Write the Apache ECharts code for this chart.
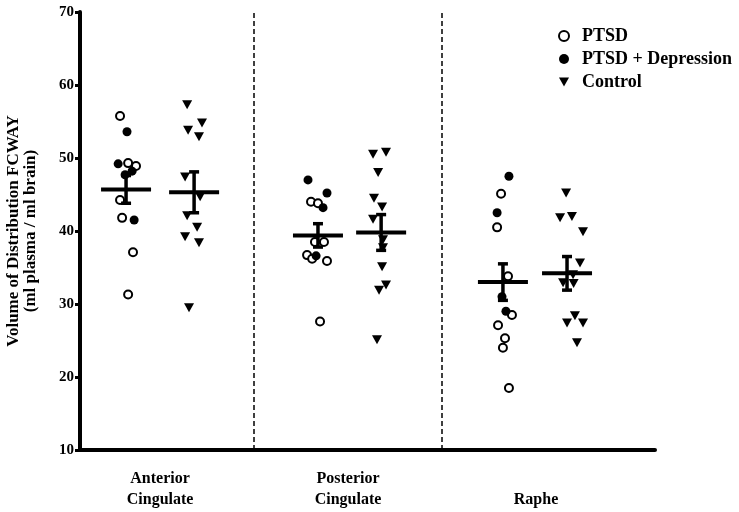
<!DOCTYPE html>
<html>
<head>
<meta charset="utf-8">
<script src="https://cdn.jsdelivr.net/npm/echarts@6/dist/echarts.min.js"></script>
<style>
  html, body { margin: 0; padding: 0; background: #fff; }
  #chart { width: 739px; height: 512px; }
</style>
</head>
<body>
<div id="chart"></div>
<script>
// Regions on the x axis (positions 1, 2, 3)
const regions = ["Anterior\nCingulate", "Posterior\nCingulate", "\nRaphe"];
const regionPos = [1, 2, 3];
const dividers = [1.5, 2.5];

// [x, Vd] pairs (x carries the small horizontal jitter)
const ptsd = [
  [0.787, 55.75], [0.83, 49.3], [0.872, 48.9], [0.787, 44.25], [0.798, 41.8], [0.856, 37.1], [0.83, 31.3],
  [1.803, 44.0], [1.84, 43.8], [1.824, 38.5], [1.872, 38.5], [1.782, 36.7], [1.809, 36.2], [1.888, 35.9], [1.851, 27.6],
  [2.814, 45.1], [2.793, 40.5], [2.851, 33.8], [2.872, 28.5], [2.798, 27.1], [2.835, 25.3], [2.824, 24.0], [2.856, 18.5],
];
const ptsdDepression = [
  [0.824, 53.6], [0.777, 49.2], [0.851, 48.2], [0.814, 47.7], [0.862, 41.5],
  [1.787, 47.0], [1.888, 45.2], [1.867, 43.2], [1.83, 36.6],
  [2.856, 47.5], [2.793, 42.5], [2.819, 31.0], [2.84, 29.0],
];
const control = [
  [1.144, 57.3], [1.223, 54.8], [1.149, 53.8], [1.207, 52.9], [1.133, 47.4], [1.213, 44.7],
  [1.144, 42.1], [1.197, 40.5], [1.133, 39.2], [1.207, 38.4], [1.154, 29.5],
  [2.202, 50.8], [2.133, 50.5], [2.16, 48.0], [2.138, 44.5], [2.181, 43.3], [2.133, 41.6],
  [2.186, 38.8], [2.186, 37.7], [2.181, 35.1], [2.202, 32.6], [2.165, 31.9], [2.154, 25.1],
  [3.16, 45.2], [3.191, 42.0], [3.128, 41.8], [3.25, 39.9], [3.234, 35.6], [3.197, 34.0],
  [3.144, 32.9], [3.2, 32.8], [3.207, 28.4], [3.165, 27.4], [3.25, 27.4], [3.218, 24.7],
];

// group mean and SEM: [x, mean, sem]
const groupStats = [
  [0.819, 45.7, 1.9], [1.181, 45.3, 2.8],
  [1.84, 39.4, 1.6], [2.176, 39.8, 2.45],
  [2.824, 33.0, 2.5], [3.165, 34.2, 2.3],
];

const font = "Liberation Serif";
const triangleDown = "path://M0,0 L10,0 L5,9 Z";

function renderMean(params, api) {
  const x = api.value(0);
  const m = api.value(1);
  const s = api.value(2);
  const c = api.coord([x, m]);
  const top = api.coord([x, m + s]);
  const bot = api.coord([x, m - s]);
  const hw = api.size([0.133, 0])[0];
  const cw = 5;
  const st = { stroke: "#000", lineWidth: 3.5 };
  return {
    type: "group",
    children: [
      { type: "line", shape: { x1: c[0] - hw, y1: c[1], x2: c[0] + hw, y2: c[1] }, style: { stroke: "#000", lineWidth: 4 } },
      { type: "line", shape: { x1: c[0], y1: top[1], x2: c[0], y2: bot[1] }, style: st },
      { type: "line", shape: { x1: c[0] - cw, y1: top[1], x2: c[0] + cw, y2: top[1] }, style: st },
      { type: "line", shape: { x1: c[0] - cw, y1: bot[1], x2: c[0] + cw, y2: bot[1] }, style: st },
    ],
  };
}

const chart = echarts.init(document.getElementById("chart"));

chart.setOption({
  animation: false,
  backgroundColor: "#fff",
  textStyle: { fontFamily: font },
  grid: { left: 80, right: 84, top: 12, bottom: 62, outerBoundsMode: "none", containLabel: false },
  legend: {
    orient: "vertical",
    left: 553,
    top: 22,
    itemWidth: 10,
    itemHeight: 10,
    itemGap: 5,
    textStyle: { fontFamily: font, fontWeight: "bold", fontSize: 18, color: "#000", padding: [0, 0, 0, 8] },
    data: ["PTSD", "PTSD + Depression", "Control"],
  },
  xAxis: {
    type: "value",
    min: 0.574,
    max: 3.633,
    splitLine: { show: false },
    axisTick: { show: false },
    axisLine: { lineStyle: { color: "#000", width: 4 } },
    axisLabel: {
      customValues: regionPos,
      formatter: (v) => regions[regionPos.indexOf(Math.round(v))] || "",
      fontFamily: font,
      fontWeight: "bold",
      fontSize: 16,
      lineHeight: 21,
      color: "#000",
      margin: 18,
    },
  },
  yAxis: {
    type: "value",
    min: 10,
    max: 70,
    interval: 10,
    name: "Volume of Distribution FCWAY\n(ml plasma / ml brain)",
    nameLocation: "middle",
    nameRotate: 90,
    nameGap: 41,
    nameTextStyle: { fontFamily: font, fontWeight: "bold", fontSize: 17, lineHeight: 17, color: "#000" },
    splitLine: { show: false },
    axisLine: { lineStyle: { color: "#000", width: 4 } },
    axisTick: { length: 5, lineStyle: { color: "#000", width: 3 } },
    axisLabel: { fontFamily: font, fontWeight: "bold", fontSize: 15, color: "#000", margin: 6 },
  },
  series: [
    {
      name: "PTSD",
      type: "scatter",
      symbol: "emptyCircle",
      symbolSize: 8,
      itemStyle: { color: "#000", borderColor: "#000", borderWidth: 2.2, opacity: 1 },
      data: ptsd,
      markLine: {
        silent: true,
        symbol: "none",
        label: { show: false },
        lineStyle: { color: "#000", type: [5, 3], width: 1.5 },
        data: dividers.map((d) => ({ xAxis: d })),
      },
    },
    {
      name: "PTSD + Depression",
      type: "scatter",
      symbol: "circle",
      symbolSize: 9,
      itemStyle: { color: "#000", opacity: 1 },
      data: ptsdDepression,
    },
    {
      name: "Control",
      type: "scatter",
      symbol: triangleDown,
      symbolSize: [10, 9],
      itemStyle: { color: "#000", opacity: 1 },
      data: control,
    },
    {
      type: "custom",
      renderItem: renderMean,
      encode: { x: 0, y: 1 },
      data: groupStats,
      z: 5,
    },
  ],
});
</script>
</body>
</html>
